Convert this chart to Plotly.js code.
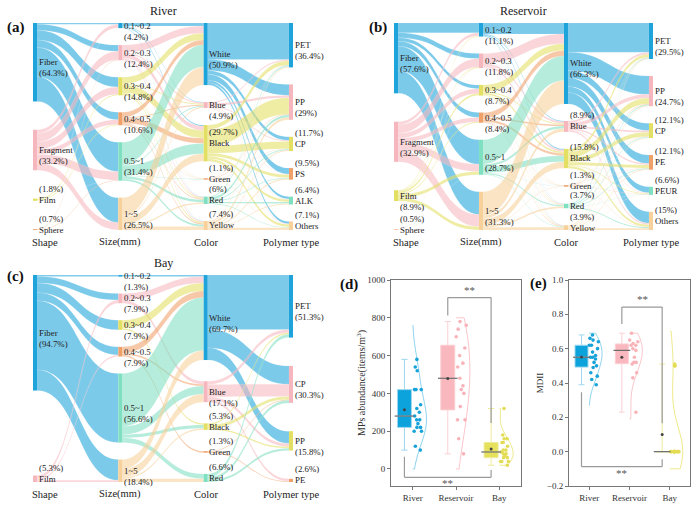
<!DOCTYPE html>
<html><head><meta charset="utf-8">
<script src="https://cdn.plot.ly/plotly-3.0.1.min.js"></script>
<style>html,body{margin:0;padding:0;background:#fff}#chart{width:700px;height:506px}</style>
</head><body><div id="chart"></div>
<script>
// ================= DATA =================
const sizeClasses = ['0.1~0.2','0.2~0.3','0.3~0.4','0.4~0.5','0.5~1','1~5'];

// ---- River ----
const riverShapes = ['Fiber','Fragment','Film','Sphere'];
const riverShapePct = [64.3, 33.2, 1.8, 0.7];
const riverSizePct = [4.2, 12.4, 14.8, 10.6, 31.4, 26.5];
const riverColors = ['White','Blue','Black','Green','Red','Yellow'];
const riverColorPct = [50.9, 4.9, 29.7, 1.1, 6, 7.4];
const riverPolymers = ['PET','PP','CP','PS','ALK','Others'];
const riverPolymerPct = [36.4, 29, 11.7, 9.5, 6.4, 7.1];
const riverShapeToSize = [
  [1.0, 5.0, 8.0, 6.0, 24.0, 20.3],
  [3.0, 7.0, 6.0, 4.0, 7.1, 6.1],
  [0.2, 0, 0.8, 0.6, 0.1, 0.1],
  [0, 0.4, 0, 0, 0.3, 0]
];
const riverSizeToColor = [
  [2.5, 0.3, 0.8, 0, 0.3, 0.3],
  [6.0, 1.0, 3.5, 0.2, 0.8, 0.9],
  [5.5, 0.8, 6.5, 0.2, 0.8, 1.0],
  [4.0, 0.8, 4.2, 0.2, 0.6, 0.8],
  [18.0, 1.0, 8.5, 0.3, 2.2, 1.5],
  [14.9, 1.0, 6.2, 0.2, 1.3, 2.9]
];
const riverColorToPolymer = [
  [30.0, 9.0, 3.0, 5.0, 2.0, 1.9],
  [1.0, 2.0, 0.8, 0.4, 0.3, 0.4],
  [3.5, 13.5, 6.0, 2.5, 2.0, 2.2],
  [0.2, 0.4, 0.2, 0.1, 0.1, 0.1],
  [0.9, 2.0, 0.8, 0.6, 1.2, 0.5],
  [0.8, 2.1, 0.9, 0.9, 0.8, 1.9]
];
const riverPctAbove = ['Film','Sphere','Black','Green','Red','Yellow','CP','PS','ALK','Others'];

// ---- Reservoir ----
const reservoirShapes = ['Fiber','Fragment','Film','Sphere'];
const reservoirShapePct = [57.6, 32.9, 8.9, 0.5];
const reservoirSizePct = [11.1, 11.8, 8.7, 8.4, 28.7, 31.3];
const reservoirColors = ['White','Blue','Black','Green','Red','Yellow'];
const reservoirColorPct = [66.3, 8.9, 15.8, 1.3, 3.7, 3.9];
const reservoirPolymers = ['PET','PP','CP','PE','PEUR','Others'];
const reservoirPolymerPct = [29.5, 24.7, 12.1, 12.1, 6.6, 15];
const reservoirShapeToSize = [
  [8.0, 4.0, 3.0, 4.0, 20.0, 18.6],
  [2.5, 7.0, 4.0, 3.5, 6.0, 9.9],
  [0.5, 0.6, 1.6, 0.8, 2.6, 2.8],
  [0.1, 0.2, 0.1, 0, 0.1, 0]
];
const reservoirSizeToColor = [
  [9.0, 0.6, 0.8, 0.1, 0.3, 0.3],
  [8.0, 1.5, 1.5, 0.2, 0.3, 0.3],
  [5.5, 0.8, 1.5, 0.2, 0.4, 0.3],
  [4.5, 1.2, 1.8, 0.2, 0.3, 0.3],
  [20.0, 2.0, 5.0, 0.3, 0.9, 0.5],
  [19.3, 2.8, 5.2, 0.3, 1.5, 2.2]
];
const reservoirColorToPolymer = [
  [24.0, 15.0, 6.0, 7.0, 5.0, 9.3],
  [1.5, 3.0, 1.5, 1.2, 0.4, 1.3],
  [2.5, 5.0, 3.5, 2.5, 0.6, 1.7],
  [0.3, 0.3, 0.2, 0.2, 0.1, 0.2],
  [0.6, 0.8, 0.5, 0.6, 0.3, 0.9],
  [0.6, 0.6, 0.4, 0.6, 0.2, 1.5]
];
const reservoirPctAbove = ['Sphere','Blue','Black','Green','Red','Yellow','CP','PE','PEUR','Others'];

// ---- Bay ----
const bayShapes = ['Fiber','Film'];
const bayShapePct = [94.7, 5.3];
const baySizePct = [1.3, 7.9, 7.9, 7.9, 56.6, 18.4];
const bayColors = ['White','Blue','Black','Green','Red'];
const bayColorPct = [69.7, 17.1, 5.3, 1.3, 6.6];
const bayPolymers = ['PET','CP','PP','PE'];
const bayPolymerPct = [51.3, 30.3, 15.8, 2.6];
const bayShapeToSize = [
  [1.3, 5.3, 7.9, 6.6, 56.6, 17.0],
  [0, 2.6, 0, 1.3, 0, 1.4]
];
const baySizeToColor = [
  [1.3, 0, 0, 0, 0],
  [5.3, 2.6, 0, 0, 0],
  [6.6, 0, 1.3, 0, 0],
  [5.3, 1.3, 0, 1.3, 0],
  [43.4, 6.6, 2.6, 0, 4.0],
  [7.8, 6.6, 1.4, 0, 2.6]
];
const bayColorToPolymer = [
  [44.7, 15.0, 10.0, 0],
  [2.6, 10.0, 2.6, 1.9],
  [1.3, 2.6, 1.4, 0],
  [0, 0.6, 0, 0.7],
  [2.7, 2.1, 1.8, 0]
];
const bayPctAbove = ['Film','Black','Green','Red','PE'];

const stageTitles = ['Shape','Size(mm)','Color','Polymer type'];

// ---- Box plots ----
const sites = ['River','Reservoir','Bay'];
const riverAbundance = [100,120,200,200,220,220,240,260,260,280,300,320,340,420,420,420,520,540,580];
const reservoirAbundance = [80,160,260,260,330,400,420,440,480,540,560,600,640,700,740,760,780];
const bayAbundance = [20,40,40,40,60,60,70,80,80,90,100,100,120,140,140,160,160,180,320];
const riverMDII = [0.39,0.42,0.44,0.46,0.49,0.50,0.52,0.54,0.55,0.55,0.56,0.58,0.60,0.62,0.62,0.64,0.65,0.66,0.68];
const reservoirMDII = [0.23,0.43,0.46,0.51,0.52,0.52,0.55,0.59,0.60,0.62,0.62,0.63,0.64,0.65,0.69];
const bayMDII = [0,0,0,0,0,0,0,0,0,0,0,0,0.5,0.5,0.51];

// ================= STYLE =================
const FIG_W = 700, FIG_H = 506, PAD = 17, THICK = 4, LINE = 11;
const SERIF = 'Liberation Serif, Times New Roman, serif';
const palette = ['#1ea3db','#f6b6bd','#e3df62','#f0a169','#7fdfc1','#f7d09a'];
const boxFill = ['#0ca2dc','#f9b8be','#e5e15c'];
const boxLine = ['#9fd8ef','#fbd0d4','#eeeb9b'];
const ptColor = ['#17a2d9','#f8b3b9','#e3dd55'];
const vioLine = ['#8fd4ef','#fbc6cb','#eeea8c'];
const violinSpanD = [[0, 760], [0, 800], [20, 320]];
const violinSpanE = [[0.27, 0.69], [0.19, 0.69], [-0.1, 0.7]];
const violinBwD = [95, 150, 45];
const violinBwE = [0.06, 0.08, 0.15];

function px(x){ return x / FIG_W; }
function py(y){ return 1 - y / FIG_H; }
function rgba(h, a){ const n = parseInt(h.slice(1), 16); return 'rgba(' + (n>>16&255) + ',' + (n>>8&255) + ',' + (n&255) + ',' + a + ')'; }

const annotations = [];
const labelFont = {family:SERIF, size:8.8, color:'#222'};

function makeSankey(columns, flows, pctAbove, dom, title) {
  const names = [], pcts = [], colors = [], colOf = [], start = [];
  columns.forEach((col, ci) => {
    start.push(names.length);
    col.names.forEach((nm, i) => { names.push(nm); pcts.push(col.pct[i]); colors.push(palette[i]); colOf.push(ci); });
  });
  const source = [], target = [], value = [], lcol = [];
  flows.forEach((m, mi) => m.forEach((row, r) => row.forEach((v, c) => {
    if (v > 0) { source.push(start[mi] + r); target.push(start[mi + 1] + c); value.push(v); lcol.push(rgba(palette[r], 0.58)); }
  })));
  const nv = names.map((_, k) => {
    let ins = 0, outs = 0;
    source.forEach((s, j) => { if (s === k) outs += value[j]; if (target[j] === k) ins += value[j]; });
    return Math.max(ins, outs);
  });
  const X0 = FIG_W * dom.x[0], Y0 = FIG_H * (1 - dom.y[1]);
  const W = FIG_W * (dom.x[1] - dom.x[0]), H = FIG_H * (dom.y[1] - dom.y[0]);
  const nc = columns.length;
  const colNodes = columns.map((_, ci) => names.map((_, k) => k).filter(k => colOf[k] === ci));
  let ky = Infinity;
  colNodes.forEach(ks => { const s = ks.reduce((a, k) => a + nv[k], 0); ky = Math.min(ky, (H - (ks.length - 1) * PAD) / s); });
  const nx = [], ny = [];
  colNodes.forEach((ks, ci) => {
    const tot = ks.reduce((a, k) => a + nv[k], 0) * ky;
    const gap = ks.length > 1 ? (H - tot) / (ks.length - 1) : 0;
    let y = 0;
    ks.forEach(k => {
      const h = nv[k] * ky;
      nx[k] = (THICK / 2 + ci * (W - THICK) / (nc - 1)) / W;
      ny[k] = (y + h / 2) / H;
      y += h + gap;
      // node label: name at the node centre, share above or below it
      const lx = X0 + nx[k] * W + THICK / 2 + 0.5, ly = Y0 + ny[k] * H;
      annotations.push({xref:'paper', yref:'paper', x:px(lx), y:py(ly), text:names[k], showarrow:false,
        xanchor:'left', yanchor:'middle', borderpad:0, font:labelFont});
      const off = pctAbove.includes(names[k]) ? -LINE : LINE;
      annotations.push({xref:'paper', yref:'paper', x:px(lx), y:py(ly + off), text:'(' + pcts[k] + '%)', showarrow:false,
        xanchor:'left', yanchor:'middle', borderpad:0, font:labelFont});
    });
    const first = ci === 0;
    annotations.push({xref:'paper', yref:'paper', x:px(X0 + nx[ks[0]] * W - (first ? 5 : 0)), y:py(Y0 + H + 12),
      text: stageTitles[ci], showarrow:false, xanchor: first ? 'left' : 'center', yanchor:'middle',
      font:{family:SERIF, size:10.5, color:'#222'}});
  });
  annotations.push({xref:'paper', yref:'paper', x:px(X0 + W / 2), y:py(Y0 - 12), text:title,
    showarrow:false, xanchor:'center', yanchor:'middle', font:{family:SERIF, size:12, color:'#222'}});
  return {
    type:'sankey', domain:dom, orientation:'h', arrangement:'fixed', hoverinfo:'none',
    node:{label:names.map(() => ''), color:colors, pad:PAD, thickness:THICK, line:{width:0}, x:nx, y:ny, hoverinfo:'none'},
    link:{source:source, target:target, value:value, color:lcol, line:{color:'rgba(255,255,255,0.35)', width:0.3}, hoverinfo:'none'},
    textfont:{family:SERIF, size:1, color:'rgba(0,0,0,0)'}
  };
}

const domA = {x:[px(33), px(293)], y:[py(230), py(23)]};
const domB = {x:[px(394), px(653)], y:[py(230), py(23)]};
const domC = {x:[px(33), px(293)], y:[py(482), py(275)]};

const traces = [];
traces.push(makeSankey([
  {names:riverShapes, pct:riverShapePct},{names:sizeClasses, pct:riverSizePct},
  {names:riverColors, pct:riverColorPct},{names:riverPolymers, pct:riverPolymerPct}],
  [riverShapeToSize, riverSizeToColor, riverColorToPolymer], riverPctAbove, domA, 'River'));
traces.push(makeSankey([
  {names:reservoirShapes, pct:reservoirShapePct},{names:sizeClasses, pct:reservoirSizePct},
  {names:reservoirColors, pct:reservoirColorPct},{names:reservoirPolymers, pct:reservoirPolymerPct}],
  [reservoirShapeToSize, reservoirSizeToColor, reservoirColorToPolymer], reservoirPctAbove, domB, 'Reservoir'));
traces.push(makeSankey([
  {names:bayShapes, pct:bayShapePct},{names:sizeClasses, pct:baySizePct},
  {names:bayColors, pct:bayColorPct},{names:bayPolymers, pct:bayPolymerPct}],
  [bayShapeToSize, baySizeToColor, bayColorToPolymer], bayPctAbove, domC, 'Bay'));

// ---- box / violin panels ----
function median(a){ const s=[...a].sort((p,q)=>p-q); const m=(s.length-1)/2; return (s[Math.floor(m)]+s[Math.ceil(m)])/2; }
function mean(a){ return a.reduce((p,q)=>p+q,0)/a.length; }

function addPanel(groups, xa, ya, boxPx, bws, spans) {
  groups.forEach((vals, i) => {
    const xs = vals.map(() => sites[i]);
    traces.push({type:'box', x:xs, y:vals, xaxis:xa, yaxis:ya, offsetgroup:'box', boxpoints:false,
      fillcolor:boxFill[i], line:{color:boxLine[i], width:1}, whiskerwidth:0.45, hoverinfo:'skip', showlegend:false});
    traces.push({type:'box', x:xs, y:vals, xaxis:xa, yaxis:ya, offsetgroup:'pts', boxpoints:'all', jitter:0.8, pointpos:-0.4,
      fillcolor:'rgba(0,0,0,0)', line:{color:'rgba(0,0,0,0)', width:0}, marker:{color:ptColor[i], size:3.6},
      hoverinfo:'skip', showlegend:false});
    traces.push({type:'violin', x:xs, y:vals, xaxis:xa, yaxis:ya, side:'positive', points:false, width:0.64,
      line:{color:vioLine[i], width:1}, fillcolor:'rgba(0,0,0,0)', box:{visible:false}, meanline:{visible:false},
      spanmode:'manual', span:spans[i], bandwidth:bws[i], hoverinfo:'skip', showlegend:false});
  });
  traces.push({type:'scatter', mode:'markers', x:sites, y:groups.map(median), xaxis:xa, yaxis:ya, offsetgroup:'box',
    marker:{symbol:'line-ew', size:boxPx, line:{color:'#6b6b6b', width:1.2}}, hoverinfo:'skip', showlegend:false});
  traces.push({type:'scatter', mode:'markers', x:sites, y:groups.map(mean), xaxis:xa, yaxis:ya, offsetgroup:'box',
    marker:{symbol:'circle', size:3, color:'#444'}, hoverinfo:'skip', showlegend:false});
  traces.push({type:'scatter', mode:'markers', x:sites, y:groups.map(median), xaxis:xa, yaxis:ya, offsetgroup:'pts',
    marker:{size:1, opacity:0}, hoverinfo:'skip', showlegend:false});
}
addPanel([riverAbundance, reservoirAbundance, bayAbundance], 'x', 'y', 14, violinBwD, violinSpanD);
addPanel([riverMDII, reservoirMDII, bayMDII], 'x2', 'y2', 12, violinBwE, violinSpanE);

// significance brackets: [left x, left foot, bar level, right x, right foot]
const bracketD = [[0.81, 812, 907, 1.81, 244], [-0.19, 65, -44, 1.81, -5]];
const bracketE = [[0.81, 0.743, 0.842, 1.81, 0.165], [-0.19, 0.346, -0.087, 1.81, -0.044]];
const shapes = [];
function addBrackets(list, xr, yr) {
  list.forEach(b => {
    const ln = {color:'#9a9a9a', width:1.2};
    shapes.push({type:'line', xref:xr, yref:yr, x0:b[0], x1:b[0], y0:b[1], y1:b[2], line:ln});
    shapes.push({type:'line', xref:xr, yref:yr, x0:b[0], x1:b[3], y0:b[2], y1:b[2], line:ln});
    shapes.push({type:'line', xref:xr, yref:yr, x0:b[3], x1:b[3], y0:b[2], y1:b[4], line:ln});
    const up = b[2] > b[1];
    annotations.push({xref:xr, yref:yr, x:(b[0] + b[3]) / 2, y:b[2], text:'**', showarrow:false,
      yanchor: up ? 'bottom' : 'top', yshift: up ? 0 : 2, font:{family:SERIF, size:11, color:'#555'}});
  });
}
addBrackets(bracketD, 'x', 'y');
addBrackets(bracketE, 'x2', 'y2');

// y title of panel (d), set right next to its tick labels
annotations.push({xref:'paper', yref:'paper', x:px(361), y:py(383), text:'MPs abundance(items/m<sup>3</sup>)', textangle:-90,
  showarrow:false, xanchor:'center', yanchor:'middle', font:{family:SERIF, size:10, color:'#333'}});

// panel letters
[['(a)',5,27],['(b)',367,27],['(c)',5,276],['(d)',338,284],['(e)',528,283]].forEach(p => {
  annotations.push({xref:'paper', yref:'paper', x:px(p[1]), y:py(p[2]), text:'<b>' + p[0] + '</b>', showarrow:false,
    xanchor:'left', yanchor:'middle', font:{family:SERIF, size:15, color:'#111'}});
});

const axBase = {showline:true, mirror:true, linecolor:'#777', linewidth:1, ticks:'outside', ticklen:3, tickcolor:'#777',
  showgrid:false, zeroline:false, tickfont:{family:SERIF, size:9, color:'#333'}};

const layout = {
  width:FIG_W, height:FIG_H, margin:{l:0, r:0, t:0, b:0}, paper_bgcolor:'#fff', plot_bgcolor:'#fff',
  font:{family:SERIF, size:9, color:'#333'}, showlegend:false,
  boxmode:'group', boxgap:0.24, boxgroupgap:0.15, violinmode:'overlay', scattermode:'group', scattergap:0.24,
  xaxis:Object.assign({}, axBase, {domain:[px(391), px(521)], anchor:'y', type:'category', categoryorder:'array', categoryarray:sites, range:[-0.5, 2.5]}),
  yaxis:Object.assign({}, axBase, {domain:[py(486), py(280)], anchor:'x', range:[-90, 1000], tick0:0, dtick:200}),
  xaxis2:Object.assign({}, axBase, {domain:[px(569), px(690)], anchor:'y2', type:'category', categoryorder:'array', categoryarray:sites, range:[-0.5, 2.5]}),
  yaxis2:Object.assign({}, axBase, {domain:[py(486), py(280)], anchor:'x2', range:[-0.2, 1.0], tick0:-0.2, dtick:0.2, tickformat:'.1f',
    title:{text:'MDII', font:{family:SERIF, size:9, color:'#333'}, standoff:1}}),
  shapes:shapes, annotations:annotations
};

Plotly.newPlot('chart', traces, layout, {displayModeBar:false, staticPlot:true});
</script></body></html>
